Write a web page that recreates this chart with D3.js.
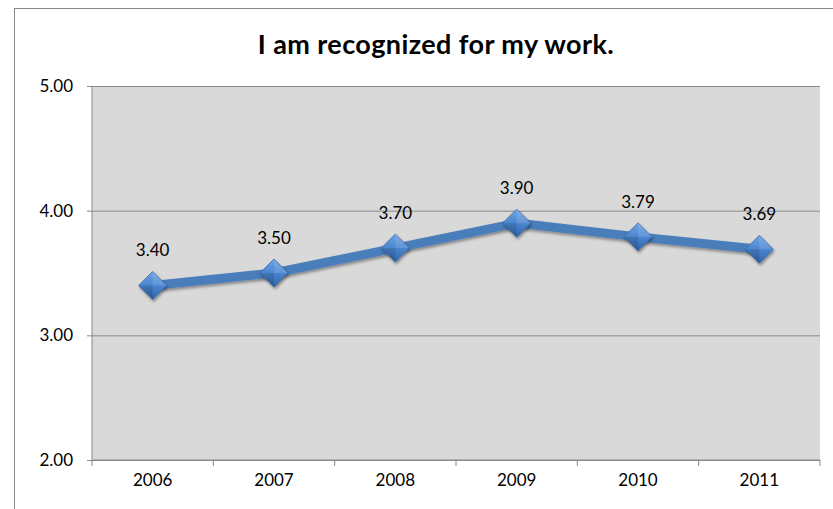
<!DOCTYPE html>
<html>
<head>
<meta charset="utf-8">
<script src="https://cdn.jsdelivr.net/npm/d3@7"></script>
<style>
  body { margin: 0; background: #fff; }
  text { font-family: Lato, "Open Sans", sans-serif; fill: #000; }
</style>
</head>
<body>
<svg width="833" height="509"></svg>
<script>
// data
years = ['2006', '2007', '2008', '2009', '2010', '2011'];
scores = [3.40, 3.50, 3.70, 3.90, 3.79, 3.69];
yTicks = [2, 3, 4, 5];
title = 'I am recognized for my work.';

svg = d3.select('svg');

// chart area border
svg.append('rect')
    .attr('x', 14.5).attr('y', 8.5)
    .attr('width', 840).attr('height', 520)
    .attr('fill', '#fff')
    .attr('stroke', '#888').attr('stroke-width', 1);

pLeft = 92; pRight = 820; pTop = 86; pBottom = 460;

xScale = d3.scaleBand()
    .range([pLeft, pRight])
    .domain(years);

yScale = d3.scaleLinear()
    .range([pBottom, pTop])
    .domain([2, 5]);

// plot background
svg.append('rect')
    .attr('x', pLeft).attr('y', pTop)
    .attr('width', pRight - pLeft).attr('height', pBottom - pTop)
    .attr('fill', '#d9d9d9');

// grid lines
svg.append('g')
    .attr('transform', `translate(${pLeft}, 0)`)
    .call(d3.axisLeft(yScale).tickValues(yTicks).tickSize(-(pRight - pLeft)).tickFormat(''))
    .call(g => g.select('.domain').remove())
    .selectAll('line').attr('stroke', '#8a8a8a');

// y axis
yAxis = svg.append('g')
    .attr('transform', `translate(${pLeft}, 0)`)
    .call(d3.axisLeft(yScale).tickValues(yTicks).tickSize(5).tickPadding(14).tickFormat(d3.format('.2f')));
yAxis.select('.domain').attr('stroke', '#888').attr('d', `M0,${pTop}V${pBottom}`);
yAxis.selectAll('line').attr('stroke', '#888');
yAxis.selectAll('text').style('font-size', '17px').attr('fill', '#000');

// x axis
xAxis = svg.append('g')
    .attr('transform', `translate(0, ${pBottom})`)
    .call(d3.axisBottom(xScale).tickSize(0).tickPadding(14));
xAxis.select('.domain').attr('stroke', '#888').attr('d', `M${pLeft},0H${pRight}`);
xAxis.selectAll('text').style('font-size', '17px').attr('fill', '#000');

// category boundary ticks
xAxis.selectAll('.sep')
    .data(years.concat(['end']))
    .enter()
    .append('line')
    .attr('x1', (d, i) => pLeft + i * xScale.step())
    .attr('x2', (d, i) => pLeft + i * xScale.step())
    .attr('y1', 0).attr('y2', 6)
    .attr('stroke', '#888');

// marker gradient + shadow
defs = svg.append('defs');
grad = defs.append('linearGradient')
    .attr('id', 'mk').attr('x1', 0).attr('y1', 0).attr('x2', 0).attr('y2', 1);
grad.append('stop').attr('offset', '0%').attr('stop-color', '#6fa3e6');
grad.append('stop').attr('offset', '50%').attr('stop-color', '#4a86d0');
grad.append('stop').attr('offset', '100%').attr('stop-color', '#2f63a8');
filt = defs.append('filter').attr('id', 'sh').attr('x', '-50%').attr('y', '-50%').attr('width', '200%').attr('height', '200%');
filt.append('feDropShadow').attr('dx', 1).attr('dy', 2).attr('stdDeviation', 1.5).attr('flood-color', '#000').attr('flood-opacity', 0.4);

cx = (d, i) => xScale(years[i]) + xScale.bandwidth() / 2;

line = d3.line()
    .x(cx)
    .y(d => yScale(d));

svg.append('path')
    .datum(scores)
    .attr('d', line)
    .attr('fill', 'none')
    .attr('stroke', '#4a7ebb')
    .attr('stroke-width', 9)
    .attr('filter', 'url(#sh)');

markers = svg.selectAll('.mk')
    .data(scores)
    .enter()
    .append('g')
    .attr('transform', (d, i) => `translate(${cx(d, i)}, ${yScale(d)})`)
    .attr('filter', 'url(#sh)');

markers.append('path')
    .attr('d', 'M0,-14L14,0L0,14L-14,0Z')
    .attr('fill', 'url(#mk)')
    .attr('stroke', '#3a6aa8').attr('stroke-width', 0.8);
// bevel facets
markers.append('path').attr('d', 'M0,-14L14,0L0,0Z').attr('fill', '#ffffff').attr('opacity', 0.12);
markers.append('path').attr('d', 'M0,14L-14,0L0,0Z').attr('fill', '#000').attr('opacity', 0.12);

// data labels
svg.selectAll('.lbl')
    .data(scores)
    .enter()
    .append('text')
    .attr('x', cx)
    .attr('y', d => yScale(d) - 29)
    .attr('text-anchor', 'middle')
    .style('font-size', '17px')
    .text(d => d.toFixed(2));

// title
svg.append('text')
    .attr('x', 436)
    .attr('y', 54)
    .attr('text-anchor', 'middle')
    .style('font-size', '27px')
    .style('font-weight', 'bold')
    .style('letter-spacing', '0.4px')
    .text(title);
</script>
</body>
</html>
